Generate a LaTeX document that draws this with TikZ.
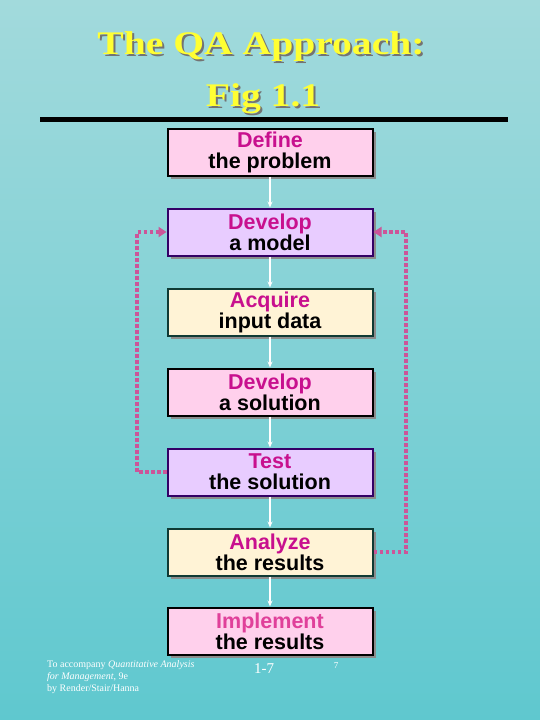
\documentclass[tikz,border=0pt]{standalone}
\usepackage{fontspec}
\setmainfont{Liberation Serif}
\newfontfamily\boxfont{Liberation Sans}
\newfontfamily\titlefont[FakeStretch=1.2]{Liberation Serif}
\usetikzlibrary{arrows.meta,shadows}
\definecolor{bgtop}{HTML}{A2DADC}
\definecolor{bgbot}{HTML}{5FC8CF}
\definecolor{pinkfill}{HTML}{FFD0EC}
\definecolor{lavfill}{HTML}{E8CCFF}
\definecolor{creamfill}{HTML}{FFF3D6}
\definecolor{purpline}{HTML}{330066}
\definecolor{tealline}{HTML}{0F3A34}
\definecolor{headmag}{HTML}{C8108E}
\definecolor{headpink}{HTML}{E0409A}
\definecolor{loopcol}{HTML}{CC5599}
\definecolor{titleyel}{HTML}{FFFF33}
\newcommand{\shadowtext}[1]{\rlap{\hspace{2pt}\raisebox{-2pt}{\textcolor{black!55}{#1}}}\textcolor{titleyel}{#1}}
\tikzset{
  stepbox/.style={draw, line width=2pt, minimum width=205pt, minimum height=47pt,
    inner sep=0pt, align=center, font=\boxfont\bfseries\fontsize{21.5}{21}\selectfont,
    drop shadow={shadow xshift=3pt, shadow yshift=-3pt, fill=black!45, opacity=1}},
  pinkbox/.style={stepbox, fill=pinkfill, draw=black},
  lavbox/.style={stepbox, fill=lavfill, draw=purpline},
  creambox/.style={stepbox, fill=creamfill, draw=tealline},
  flow/.style={draw=white, line width=1.3pt, -{Stealth[length=6pt,width=5pt]}},
  loop/.style={draw=loopcol, line width=4pt, dash pattern=on 3.5pt off 2.5pt,
    -{Triangle[length=8pt,width=10pt]}},
  foot/.style={text=white, font=\fontsize{10}{12}\selectfont, anchor=base west, inner sep=0pt},
  ttl/.style={font=\titlefont\bfseries\fontsize{33}{40}\selectfont, anchor=base, inner sep=0pt},
}
\begin{document}
\begin{tikzpicture}[x=1pt,y=-1pt]
\shade[top color=bgtop, bottom color=bgbot] (0,0) rectangle (540,720);
\useasboundingbox (0,0) rectangle (540,720);
% title
\node (title1) [ttl] at (261,54) {\shadowtext{The QA Approach:}};
\node (title2) [ttl] at (263,106) {\shadowtext{Fig 1.1}};
\fill[black] (40,117) rectangle (508,122);
% boxes
\node (b1) [pinkbox] at (270,152) {\textcolor{headmag}{Define}\\the problem};
\node (b2) [lavbox] at (270,232) {\textcolor{headmag}{Develop}\\a model};
\node (b3) [creambox] at (270,312) {\textcolor{headmag}{Acquire}\\input data};
\node (b4) [pinkbox] at (270,392) {\textcolor{headmag}{Develop}\\a solution};
\node (b5) [lavbox] at (270,472) {\textcolor{headmag}{Test}\\the solution};
\node (b6) [creambox] at (270,552) {\textcolor{headmag}{Analyze}\\the results};
\node (b7) [pinkbox] at (270,631) {\textcolor{headpink}{Implement}\\the results};
% flow arrows
\foreach \a/\b in {b1/b2,b2/b3,b3/b4,b4/b5,b5/b6,b6/b7}
  \draw[flow] (\a.south) -- (\b.north);
% feedback loops
\coordinate (l1) at (137,472);
\coordinate (l2) at (137,232);
\coordinate (r1) at (406,552);
\coordinate (r2) at (406,232);
\draw[loop] (b5.west) -- (l1) -- (l2) -- (b2.west);
\draw[loop] (b6.east) -- (r1) -- (r2) -- (b2.east);
% footer
\node (f1) [foot] at (47,667) {To accompany \textit{Quantitative Analysis}};
\node (f2) [foot] at (47,679) {\textit{for Management}, 9e};
\node (f3) [foot] at (47,691) {by Render/Stair/Hanna};
\node (pg) [text=white, font=\fontsize{15}{16}\selectfont, anchor=base] at (264,673) {1-7};
\node (p7) [text=white, font=\fontsize{9}{10}\selectfont, anchor=base] at (336,668) {7};
\end{tikzpicture}
\end{document}
